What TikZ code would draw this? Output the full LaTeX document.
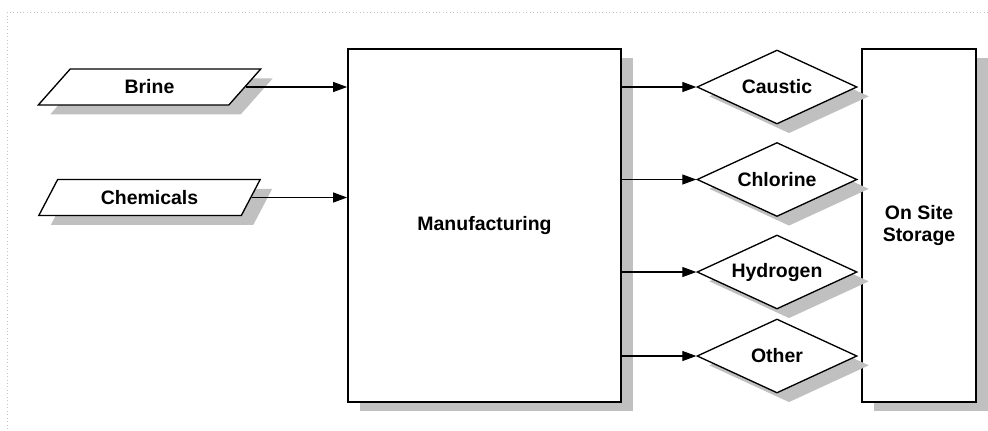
\documentclass[tikz,border=0pt]{standalone}
\usepackage{fontspec}
\setmainfont{Liberation Sans}
\usetikzlibrary{arrows.meta,positioning,shapes.geometric,shadows}
\definecolor{clInk}{HTML}{000000}
\definecolor{clShadow}{HTML}{C0C0C0}
\definecolor{clFrame}{HTML}{C4C4C4}
\tikzset{
  cl font/.style={font=\bfseries\fontsize{14.6}{16.8}\selectfont, text=clInk},
  cl shadow/.style={
    general shadow={fill=clShadow, shadow xshift=9pt, shadow yshift=-7pt}
  },
  cl box/.style={
    rectangle,
    draw=clInk,
    fill=white,
    line width=1.3pt,
    cl shadow,
    cl font,
    align=center,
    inner sep=0pt
  },
  cl input/.style={
    trapezium,
    trapezium left angle=55,
    trapezium right angle=125,
    trapezium stretches=true,
    draw=clInk,
    fill=white,
    line width=1pt,
    minimum width=167pt,
    minimum height=27pt,
    inner sep=0pt,
    cl shadow,
    cl font
  },
  cl product/.style={
    diamond,
    aspect=2.16,
    draw=clInk,
    fill=white,
    line width=1pt,
    minimum width=120pt,
    minimum height=55.5pt,
    inner sep=1pt,
    cl shadow,
    cl font
  },
  cl flow/.style={
    draw=clInk,
    line width=.8pt,
    -{Triangle[length=10.5pt,width=7.5pt]}
  },
  cl frame/.style={draw=clFrame, line width=.6pt, dotted}
}

\begin{document}
\begin{tikzpicture}[x=.75pt,y=-.75pt]
  \useasboundingbox (0,0) rectangle (988,430);
  \draw[cl frame] (988,12) -- (7,12) -- (7,430);

  % plant and storage
  \node[cl box, minimum width=204.75pt, minimum height=264.75pt] (manufacturing) at (484.5,225.5) {Manufacturing};
  \node[cl box, minimum width=85.5pt, minimum height=264.75pt] (storage) at (919,225.5) {On Site\\Storage};

  % feeds
  \node[cl input] (brine) at (149.5,87) {Brine};
  \node[cl input] (chemicals) at (149.5,197.5) {Chemicals};

  % products
  \node[cl product] (caustic) at (777,87) {Caustic};
  \node[cl product] (chlorine) at (777,179.5) {Chlorine};
  \node[cl product] (hydrogen) at (777,272) {Hydrogen};
  \node[cl product] (other) at (777,356) {Other};

  \draw[cl flow] (brine.east) -- (brine.east -| manufacturing.west);
  \draw[cl flow] (chemicals.east) -- (chemicals.east -| manufacturing.west);
  \draw[cl flow] (manufacturing.east |- caustic.west) -- (caustic.west);
  \draw[cl flow] (manufacturing.east |- chlorine.west) -- (chlorine.west);
  \draw[cl flow] (manufacturing.east |- hydrogen.west) -- (hydrogen.west);
  \draw[cl flow] (manufacturing.east |- other.west) -- (other.west);
\end{tikzpicture}
\end{document}
